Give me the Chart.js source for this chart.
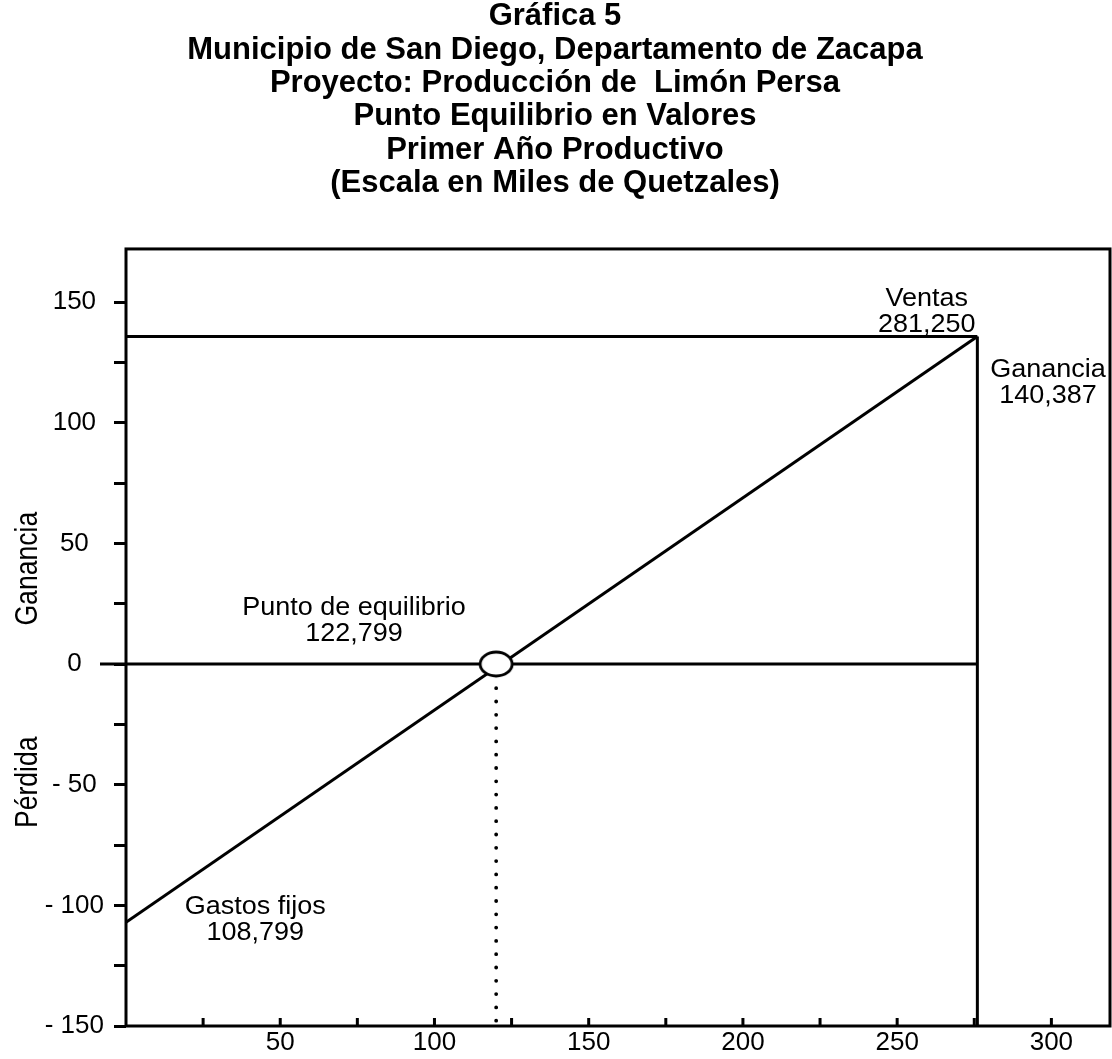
<!DOCTYPE html>
<html lang="es">
<head>
    <meta charset="UTF-8">
    <title>Punto de equilibrio - Limón Persa</title>
    <style>
        body {
            margin: 0;
            background: #fff;
        }
        .chartBox {
            width: 1112px;
            height: 1059px;
        }
    </style>
</head>
<body>
<div class="chartBox">
    <canvas id="myChart"></canvas>
</div>
<script src="https://cdn.jsdelivr.net/npm/chart.js"></script>

<script>
    const titleLines = [
        'Gráfica 5',
        'Municipio de San Diego, Departamento de Zacapa',
        'Proyecto: Producción de  Limón Persa',
        'Punto Equilibrio en Valores',
        'Primer Año Productivo',
        '(Escala en Miles de Quetzales)'
    ];

    // segments (miles de quetzales)
    const costX = [0, 276];
    const costY = [-107, 135.7];
    const salesX = [0, 276];
    const salesY = [135.7, 135.7];
    const zeroX = [0, 276];
    const zeroY = [0, 0];
    const ventasX = [276, 276];
    const ventasY = [-150, 135.7];
    const equilibrioX = [120];
    const equilibrioY = [0];
    const dropX = [120, 120];
    const dropY = [-4.5, -150];

    // tick labels
    const xLabels = [50, 100, 150, 200, 250, 300];
    const yLabels = [150, 100, 50, 0, -50, -100, -150];

    // notes on the graph
    const noteText = [
        ['Ventas', '281,250'],
        ['Ganancia', '140,387'],
        ['Punto de equilibrio', '122,799'],
        ['Gastos fijos', '108,799']
    ];
    const noteX = [259.6, 298.9, 73.9, 41.9];
    const noteY = [151.1, 121.9, 23.2, -100.9];
    const axisNames = ['Ganancia', 'Pérdida'];
    const axisNameY = [39.5, -49];

    const FONT = '"Liberation Sans", Arial, Helvetica, sans-serif';

    function pts(xs, ys) {
        return xs.map((v, i) => ({x: v, y: ys[i]}));
    }

    // white ellipse used as the break-even marker
    const ring = document.createElement('canvas');
    ring.width = 38;
    ring.height = 30;
    const rc = ring.getContext('2d');
    rc.beginPath();
    rc.ellipse(19, 15, 16, 12, 0, 0, Math.PI * 2);
    rc.fillStyle = '#fff';
    rc.fill();
    rc.lineWidth = 2.8;
    rc.strokeStyle = '#000';
    rc.stroke();

    const lineStyle = {
        showLine: true,
        borderColor: '#000',
        borderWidth: 3,
        pointRadius: 0,
        fill: false
    };

    const decorations = {
        id: 'decorations',
        afterDraw(chart) {
            const {ctx, chartArea: a} = chart;
            const x = chart.scales.x;
            const y = chart.scales.y;
            ctx.save();
            ctx.strokeStyle = '#000';
            ctx.lineWidth = 3;

            // x tick marks point into the plot
            ctx.beginPath();
            x.ticks.forEach(t => {
                if (t.value <= 0) return;
                const px = x.getPixelForValue(t.value);
                ctx.moveTo(px, a.bottom);
                ctx.lineTo(px, a.bottom - 8);
            });
            // longer mark at zero
            const y0 = y.getPixelForValue(0);
            ctx.moveTo(a.left - 26, y0);
            ctx.lineTo(a.left, y0);
            ctx.stroke();

            ctx.strokeRect(a.left, a.top, a.right - a.left, a.bottom - a.top);

            ctx.fillStyle = '#000';
            ctx.textAlign = 'center';
            ctx.textBaseline = 'middle';
            ctx.font = '25px ' + FONT;
            noteText.forEach((lines, i) => {
                const px = x.getPixelForValue(noteX[i]);
                const py = y.getPixelForValue(noteY[i]);
                lines.forEach((s, j) => {
                    ctx.save();
                    ctx.translate(px, py + j * 26);
                    ctx.scale(1.08, 1);
                    ctx.fillText(s, 0, 0);
                    ctx.restore();
                });
            });

            ctx.font = '32px "Liberation Sans Narrow", ' + FONT;
            axisNames.forEach((s, i) => {
                ctx.save();
                ctx.translate(28, y.getPixelForValue(axisNameY[i]));
                ctx.rotate(-Math.PI / 2);
                ctx.scale(0.83, 1);
                ctx.fillText(s, 0, 0);
                ctx.restore();
            });
            ctx.restore();
        }
    };

    const data = {
        datasets: [
            {
                label: 'Punto de equilibrio',
                data: pts(equilibrioX, equilibrioY),
                pointStyle: ring,
                pointRadius: 16,
                showLine: false,
                order: -1
            },
            Object.assign({label: 'Costos', data: pts(costX, costY)}, lineStyle),
            Object.assign({label: 'Ventas', data: pts(salesX, salesY)}, lineStyle),
            Object.assign({label: 'Cero', data: pts(zeroX, zeroY)}, lineStyle),
            Object.assign({label: 'Ventas vertical', data: pts(ventasX, ventasY)}, lineStyle),
            Object.assign({label: 'Equilibrio', data: pts(dropX, dropY)}, lineStyle, {
                borderWidth: 3.8,
                borderDash: [0, 13.3],
                borderCapStyle: 'round'
            })
        ]
    };

    const config = {
        type: 'scatter',
        data: data,
        options: {
            responsive: true,
            maintainAspectRatio: false,
            animation: false,
            layout: {
                autoPadding: false,
                padding: {left: 0, right: 2, top: 0, bottom: 0}
            },
            plugins: {
                legend: {display: false},
                tooltip: {enabled: false},
                title: {
                    display: true,
                    text: titleLines,
                    color: '#000',
                    font: {family: FONT, size: 31, weight: 'bold', lineHeight: 1.075},
                    padding: {top: 0, bottom: 49}
                }
            },
            scales: {
                x: {
                    type: 'linear',
                    min: 0,
                    max: 319,
                    border: {display: false},
                    grid: {display: false, drawTicks: false},
                    ticks: {
                        stepSize: 25,
                        includeBounds: false,
                        padding: 1,
                        color: '#000',
                        font: {family: FONT, size: 26},
                        maxRotation: 0,
                        autoSkip: false,
                        callback: v => xLabels.includes(v) ? String(v) : ''
                    },
                    afterFit: s => {
                        s.height = 33;
                        s.paddingLeft = 0;
                        s.paddingRight = 0;
                    }
                },
                y: {
                    min: -150,
                    max: 172,
                    border: {display: false},
                    grid: {
                        drawOnChartArea: false,
                        drawTicks: true,
                        tickLength: 12,
                        color: '#000',
                        lineWidth: 3
                    },
                    ticks: {
                        stepSize: 25,
                        includeBounds: false,
                        padding: 10,
                        crossAlign: 'center',
                        color: '#000',
                        font: {family: FONT, size: 26},
                        autoSkip: false,
                        callback: v => yLabels.includes(v) ? (v < 0 ? '- ' + (-v) : String(v)) : ''
                    },
                    afterFit: s => {
                        s.width = 126;
                        s.paddingTop = 0;
                        s.paddingBottom = 0;
                    }
                }
            }
        },
        plugins: [decorations]
    };

    const myChart = new Chart(
        document.getElementById('myChart'),
        config
    );
</script>
</body>
</html>
